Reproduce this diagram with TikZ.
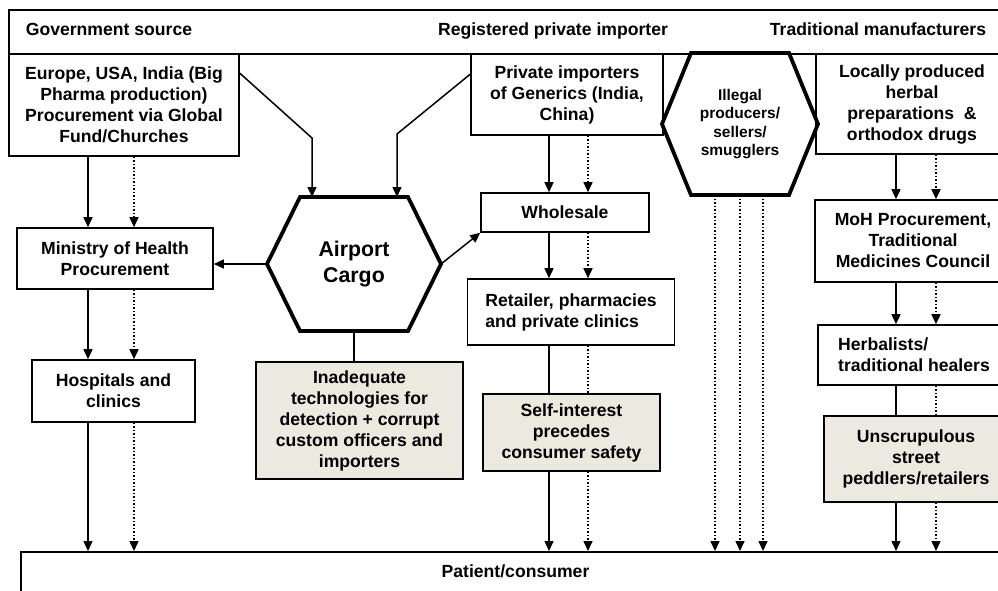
\documentclass[tikz,border=0pt]{standalone}
\usepackage{fontspec}
\setmainfont{Liberation Sans}
\usetikzlibrary{arrows.meta}
\definecolor{notefill}{RGB}{236,233,224}

\begin{document}
\begin{tikzpicture}[x=1pt, y=-1pt]
\tikzset{ >={Triangle[length=10pt,width=9pt]},
  txt/.style={font=\fontsize{17.6}{21}\selectfont\bfseries},
  box/.style={draw, line width=1.6pt, inner sep=3pt, align=center, txt},
  note/.style={box, fill=notefill},
  hexa/.style={inner sep=0pt, outer sep=2pt, align=center},
  hexline/.style={line width=3.8pt},
  link/.style={line width=1.5pt},
}

\useasboundingbox (0,0) rectangle (998,590);
\clip (0,0) rectangle (998,590);

%\draw [lightgray, dashed] (0,0) grid[step=50] (998,590);

% columns of the arrows
\coordinate (c1) at (88,0);
\coordinate (d1) at (134,0);
\coordinate (c2) at (549,0);
\coordinate (d2) at (588,0);
\coordinate (c3) at (896,0);
\coordinate (d3) at (936,0);
\coordinate (i1) at (715,0);
\coordinate (i2) at (740,0);
\coordinate (i3) at (763,0);

\node [box, minimum width=1001pt, minimum height=44pt] (Hd) at (509.5,32) {};
\node [txt, anchor=base] (gs) at (109,35) {Government source};
\node [txt, anchor=base] (rp) at (553,35) {Registered private importer};
\node [txt, anchor=base] (tm) at (878,35) {Traditional manufacturers};

\node [box, minimum width=230pt, minimum height=102pt] (G) at (124,105)
  {Europe, USA, India (Big\\ Pharma production)\\ Procurement via Global\\ Fund/Churches};
\node [box, minimum width=192pt, minimum height=81pt] (P) at (567,94.5)
  {Private importers\\ of Generics (India,\\ China)};
\node [box, minimum width=192pt, minimum height=100pt] (Tr) at (912,104)
  {Locally produced\\ herbal\\ preparations \ \&\\ orthodox drugs};

\node [hexa, minimum width=152pt, minimum height=138pt,
  font=\fontsize{15.5}{18.3}\selectfont\bfseries] (I) at (740,124)
  {Illegal\\ producers/\\ sellers/\\ smugglers};
\draw [hexline] (I.west) -- ([xshift=29pt]I.north west) -- ([xshift=-29pt]I.north east)
  -- (I.east) -- ([xshift=-29pt]I.south east) -- ([xshift=29pt]I.south west) -- cycle;

\node [hexa, minimum width=170pt, minimum height=130pt,
  font=\fontsize{21.3}{26}\selectfont\bfseries] (A) at (354,264) {Airport\\ Cargo};
\draw [hexline] (A.west) -- ([xshift=33pt]A.north west) -- ([xshift=-33pt]A.north east)
  -- (A.east) -- ([xshift=-33pt]A.south east) -- ([xshift=33pt]A.south west) -- cycle;

\node [box, minimum width=196pt, minimum height=61pt] (M) at (115,258.5) {Ministry of Health\\ Procurement};
\node [box, minimum width=163pt, minimum height=62pt] (Ho) at (113.5,391) {Hospitals and\\ clinics};
\node [note, minimum width=207pt, minimum height=117pt] (T) at (359.5,420.5)
  {Inadequate\\ technologies for\\ detection + corrupt\\ custom officers and\\ importers};

\node [box, minimum width=168pt, minimum height=39pt] (W) at (565,212.5) {Wholesale};
\node [box, align=left, minimum width=207pt, minimum height=66pt] (R) at (571,312)
  {Retailer, pharmacies\\ and private clinics};
\node [note, minimum width=177pt, minimum height=77pt] (S) at (571.5,432.5)
  {Self-interest\\ precedes\\ consumer safety};

\node [box, minimum width=196pt, minimum height=82pt] (Mo) at (913,241)
  {MoH Procurement,\\ Traditional\\ Medicines Council};
\node [box, align=left, minimum width=192pt, minimum height=60pt] (He) at (914,355)
  {Herbalists/\\ traditional healers};
\node [note, minimum width=184pt, minimum height=86pt] (U) at (916,459)
  {Unscrupulous\\ street\\ peddlers/retailers};

\node [box, anchor=north, minimum width=989pt, text height=23pt, text depth=20pt] (Pc) at (515.5,551) {Patient/consumer};

% government column
\draw [->, link] (G.south -| c1) -- (M.north -| c1);
\draw [->, link, dotted] (G.south -| d1) -- (M.north -| d1);
\draw [->, link] (M.south -| c1) -- (Ho.north -| c1);
\draw [->, link, dotted] (M.south -| d1) -- (Ho.north -| d1);
\draw [->, link] (Ho.south -| c1) -- (Pc.north -| c1);
\draw [->, link, dotted] (Ho.south -| d1) -- (Pc.north -| d1);

% airport
\draw [->, link] ([yshift=-20pt]G.north east) -- ([shift={(-42pt,59pt)}]A.north) -- ([xshift=-42pt]A.north);
\draw [->, link] ([yshift=-21pt]P.north west) -- ([shift={(43pt,63pt)}]A.north) -- ([xshift=43pt]A.north);
\draw [->, link] (A.west) -- (A.west -| M.east);
\draw [->, link] (A.east) -- (W.south west);
\draw [link] (A.south) -- (A.south |- T.north);

% private column
\draw [->, link] (P.south -| c2) -- (W.north -| c2);
\draw [->, link, dotted] (P.south -| d2) -- (W.north -| d2);
\draw [->, link] (W.south -| c2) -- (R.north -| c2);
\draw [->, link, dotted] (W.south -| d2) -- (R.north -| d2);
\draw [link] (R.south -| c2) -- (S.north -| c2);
\draw [link, dotted] (R.south -| d2) -- (S.north -| d2);
\draw [->, link] (S.south -| c2) -- (Pc.north -| c2);
\draw [->, link, dotted] (S.south -| d2) -- (Pc.north -| d2);

% illegal
\draw [->, link, dotted] (I.south -| i1) -- (Pc.north -| i1);
\draw [->, link, dotted] (I.south -| i2) -- (Pc.north -| i2);
\draw [->, link, dotted] (I.south -| i3) -- (Pc.north -| i3);

% traditional column
\draw [->, link] (Tr.south -| c3) -- (Mo.north -| c3);
\draw [->, link, dotted] (Tr.south -| d3) -- (Mo.north -| d3);
\draw [->, link] (Mo.south -| c3) -- (He.north -| c3);
\draw [->, link, dotted] (Mo.south -| d3) -- (He.north -| d3);
\draw [link] (He.south -| c3) -- (U.north -| c3);
\draw [link, dotted] (He.south -| d3) -- (U.north -| d3);
\draw [->, link] (U.south -| c3) -- (Pc.north -| c3);
\draw [->, link, dotted] (U.south -| d3) -- (Pc.north -| d3);
\end{tikzpicture}
\end{document}
